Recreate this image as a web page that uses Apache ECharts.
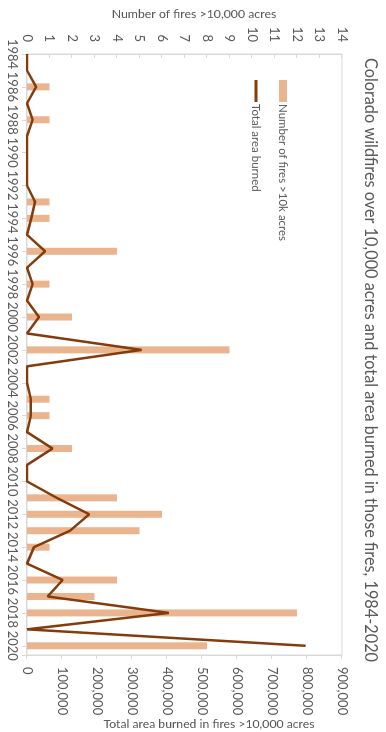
<!DOCTYPE html>
<html><head><meta charset="utf-8">
<script src="https://cdn.jsdelivr.net/npm/echarts@6/dist/echarts.min.js"></script>
<style>
html,body{margin:0;padding:0;background:#fff;overflow:hidden;width:386px;height:732px;}
#wrap{position:absolute;left:0;top:0;width:732px;height:386px;transform-origin:0 0;transform:translateX(386px) rotate(90deg);}
</style></head><body>
<div id="wrap"></div>
<script>
const years = [1984,1985,1986,1987,1988,1989,1990,1991,1992,1993,1994,1995,1996,1997,1998,1999,2000,2001,2002,2003,2004,2005,2006,2007,2008,2009,2010,2011,2012,2013,2014,2015,2016,2017,2018,2019,2020];
const fireCounts = [0,0,1,0,1,0,0,0,0,1,1,0,4,0,1,0,2,0,9,0,0,1,1,0,2,0,0,4,6,5,1,0,4,3,12,0,8];
const areaBurned = [0,0,26000,0,16000,0,0,0,0,23000,12000,0,52000,0,16000,0,34000,0,327000,0,0,11000,11000,0,73000,0,0,85000,178000,123000,20000,0,102000,59000,405000,0,796000];
const titleText = 'Colorado wildfires over 10,000 acres and total area burned in those fires, 1984-2020';
const fireAxisName = 'Number of fires >10,000 acres';
const areaAxisName = 'Total area burned in fires >10,000 acres';
const barName = 'Number of fires >10k acres';
const lineName = 'Total area burned';

const FONT = 'Lato, "Open Sans", sans-serif';
const GREY = '#595959';
const AXIS = '#d9d9d9';
const chart = echarts.init(document.getElementById('wrap'), null, {renderer:'canvas'});
const fmt = v => String(v).replace(/\B(?=(\d{3})+(?!\d))/g, ',');
chart.setOption({
  animation:false,
  backgroundColor:'#fff',
  textStyle:{fontFamily:FONT},
  grid:{left:54,right:77,top:44,bottom:27,show:true,borderColor:AXIS,borderWidth:1,outerBoundsMode:'none'},
  legend:[
    {data:[barName],orient:'vertical',left:80,top:97,padding:0,itemWidth:22,itemHeight:8,icon:'rect',
     textStyle:{color:GREY,fontSize:11.5,fontFamily:FONT,padding:[0,0,0,-3]}},
    {data:[lineName],orient:'vertical',left:80,top:124,padding:0,itemWidth:22,itemHeight:3,icon:'rect',
     textStyle:{color:GREY,fontSize:11.5,fontFamily:FONT,padding:[0,0,0,-3]}}
  ],
  xAxis:{type:'value',min:1984,max:2020.56,interval:2,
    axisLine:{show:true,lineStyle:{color:AXIS}},
    axisTick:{show:true,length:5,lineStyle:{color:AXIS}},
    splitLine:{show:false},
    axisLabel:{color:GREY,fontSize:13,fontFamily:FONT,margin:8,
      formatter:v=>(Number.isInteger(v)&&v%2===0)?String(v):''}},
  yAxis:[
    {type:'value',position:'left',min:0,max:14,interval:1,
     axisLine:{show:true,lineStyle:{color:AXIS}},
     axisTick:{show:true,inside:true,length:4,lineStyle:{color:AXIS}},
     splitLine:{show:false},
     axisLabel:{color:GREY,fontSize:13,fontFamily:FONT,margin:12}},
    {type:'value',position:'right',min:0,max:900000,interval:100000,
     axisLine:{show:true,lineStyle:{color:AXIS}},
     axisTick:{show:true,length:4,lineStyle:{color:AXIS}},
     splitLine:{show:false},
     axisLabel:{color:GREY,fontSize:13,fontFamily:FONT,margin:12,formatter:v=>fmt(v)}}
  ],
  graphic:[
    {type:'text',x:360,y:16,style:{text:titleText,fill:GREY,font:'16.3px '+FONT,align:'center',verticalAlign:'middle'}},
    {type:'text',x:14,y:192,rotation:Math.PI/2,style:{text:fireAxisName,fill:GREY,font:'12.3px '+FONT,align:'center',verticalAlign:'middle'}},
    {type:'text',x:724,y:177,rotation:Math.PI/2,style:{text:areaAxisName,fill:GREY,font:'12.2px '+FONT,align:'center',verticalAlign:'middle'}}
  ],
  series:[
    {name:barName,type:'bar',xAxisIndex:0,yAxisIndex:0,barWidth:7,
     itemStyle:{color:'#eab48f'},
     data:years.map((y,i)=>[y,fireCounts[i]])},
    {name:lineName,type:'line',xAxisIndex:0,yAxisIndex:1,symbol:'none',showSymbol:false,
     itemStyle:{color:'#843c0c'},lineStyle:{color:'#843c0c',width:2.5},
     data:years.map((y,i)=>[y,areaBurned[i]])}
  ]
});
</script>
</body></html>
